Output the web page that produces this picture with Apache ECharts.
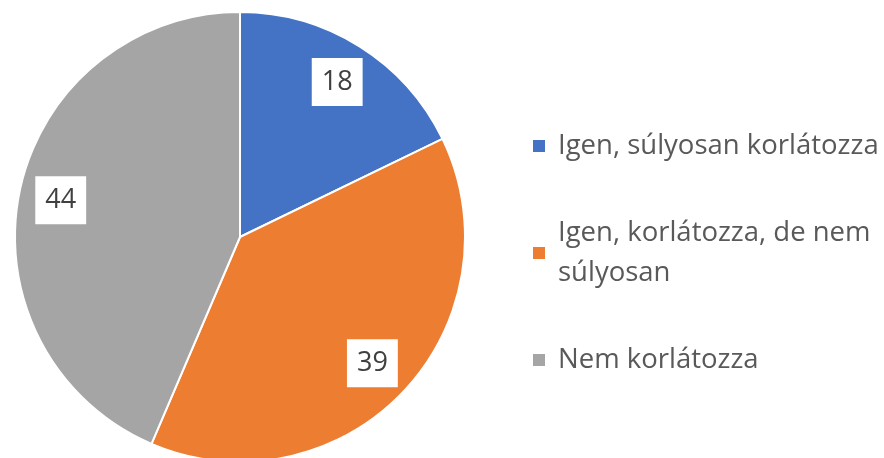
<!DOCTYPE html>
<html>
<head>
    <meta charset="utf-8">
    <title>Pie</title>
    <script src="https://cdn.jsdelivr.net/npm/echarts@6/dist/echarts.min.js"></script>
    <style>
        html, body { margin: 0; padding: 0; background: #fff; }
        #chart { width: 884px; height: 458px; }
    </style>
</head>
<body>
    <div id="chart"></div>
    <script>
        var categories = ['Igen, súlyosan korlátozza', 'Igen, korlátozza, de nem súlyosan', 'Nem korlátozza'];
        var values = [18, 39, 44];
        var colors = ['#4472C4', '#ED7D31', '#A5A5A5'];

        var pieData = categories.map(function (name, i) {
            return { name: name, value: values[i], itemStyle: { color: colors[i] } };
        });

        var chart = echarts.init(document.getElementById('chart'));

        // one legend per entry so the spacing can follow the original
        function legendFor(name, top, padTop) {
            return {
                data: [name],
                orient: 'vertical',
                left: 531,
                top: top,
                padding: 0,
                icon: 'rect',
                itemWidth: 14,
                itemHeight: 14,
                formatter: function (n) {
                    return n === categories[1] ? 'Igen, korlátozza, de nem\nsúlyosan' : n;
                },
                textStyle: {
                    fontFamily: 'Open Sans',
                    fontSize: 27.5,
                    color: '#595959',
                    lineHeight: 40,
                    padding: [padTop, 0, 0, 7]
                }
            };
        }

        var option = {
            animation: false,
            legend: [
                legendFor(categories[0], 126, 0),
                legendFor(categories[1], 193, 40),
                legendFor(categories[2], 340, 0)
            ],
            series: [
                {
                    type: 'pie',
                    center: [240, 237],
                    radius: 225,
                    startAngle: 90,
                    clockwise: true,
                    data: pieData,
                    itemStyle: { borderColor: '#fff', borderWidth: 2 },
                    label: { show: false },
                    labelLine: { show: false },
                    emphasis: { disabled: true }
                },
                {
                    // transparent ring only used to place the value labels at ~80% radius
                    type: 'pie',
                    center: [240, 237],
                    radius: [135, 225],
                    startAngle: 90,
                    silent: true,
                    data: pieData.map(function (d) {
                        return { name: d.name, value: d.value };
                    }),
                    itemStyle: { color: 'rgba(0,0,0,0)' },
                    label: {
                        show: true,
                        position: 'inside',
                        formatter: '{c}',
                        fontFamily: 'Open Sans',
                        fontSize: 27,
                        lineHeight: 28,
                        color: '#404040',
                        backgroundColor: '#fff',
                        padding: [10, 10, 10, 10]
                    },
                    labelLine: { show: false },
                    emphasis: { disabled: true }
                }
            ]
        };

        chart.setOption(option);
    </script>
</body>
</html>
